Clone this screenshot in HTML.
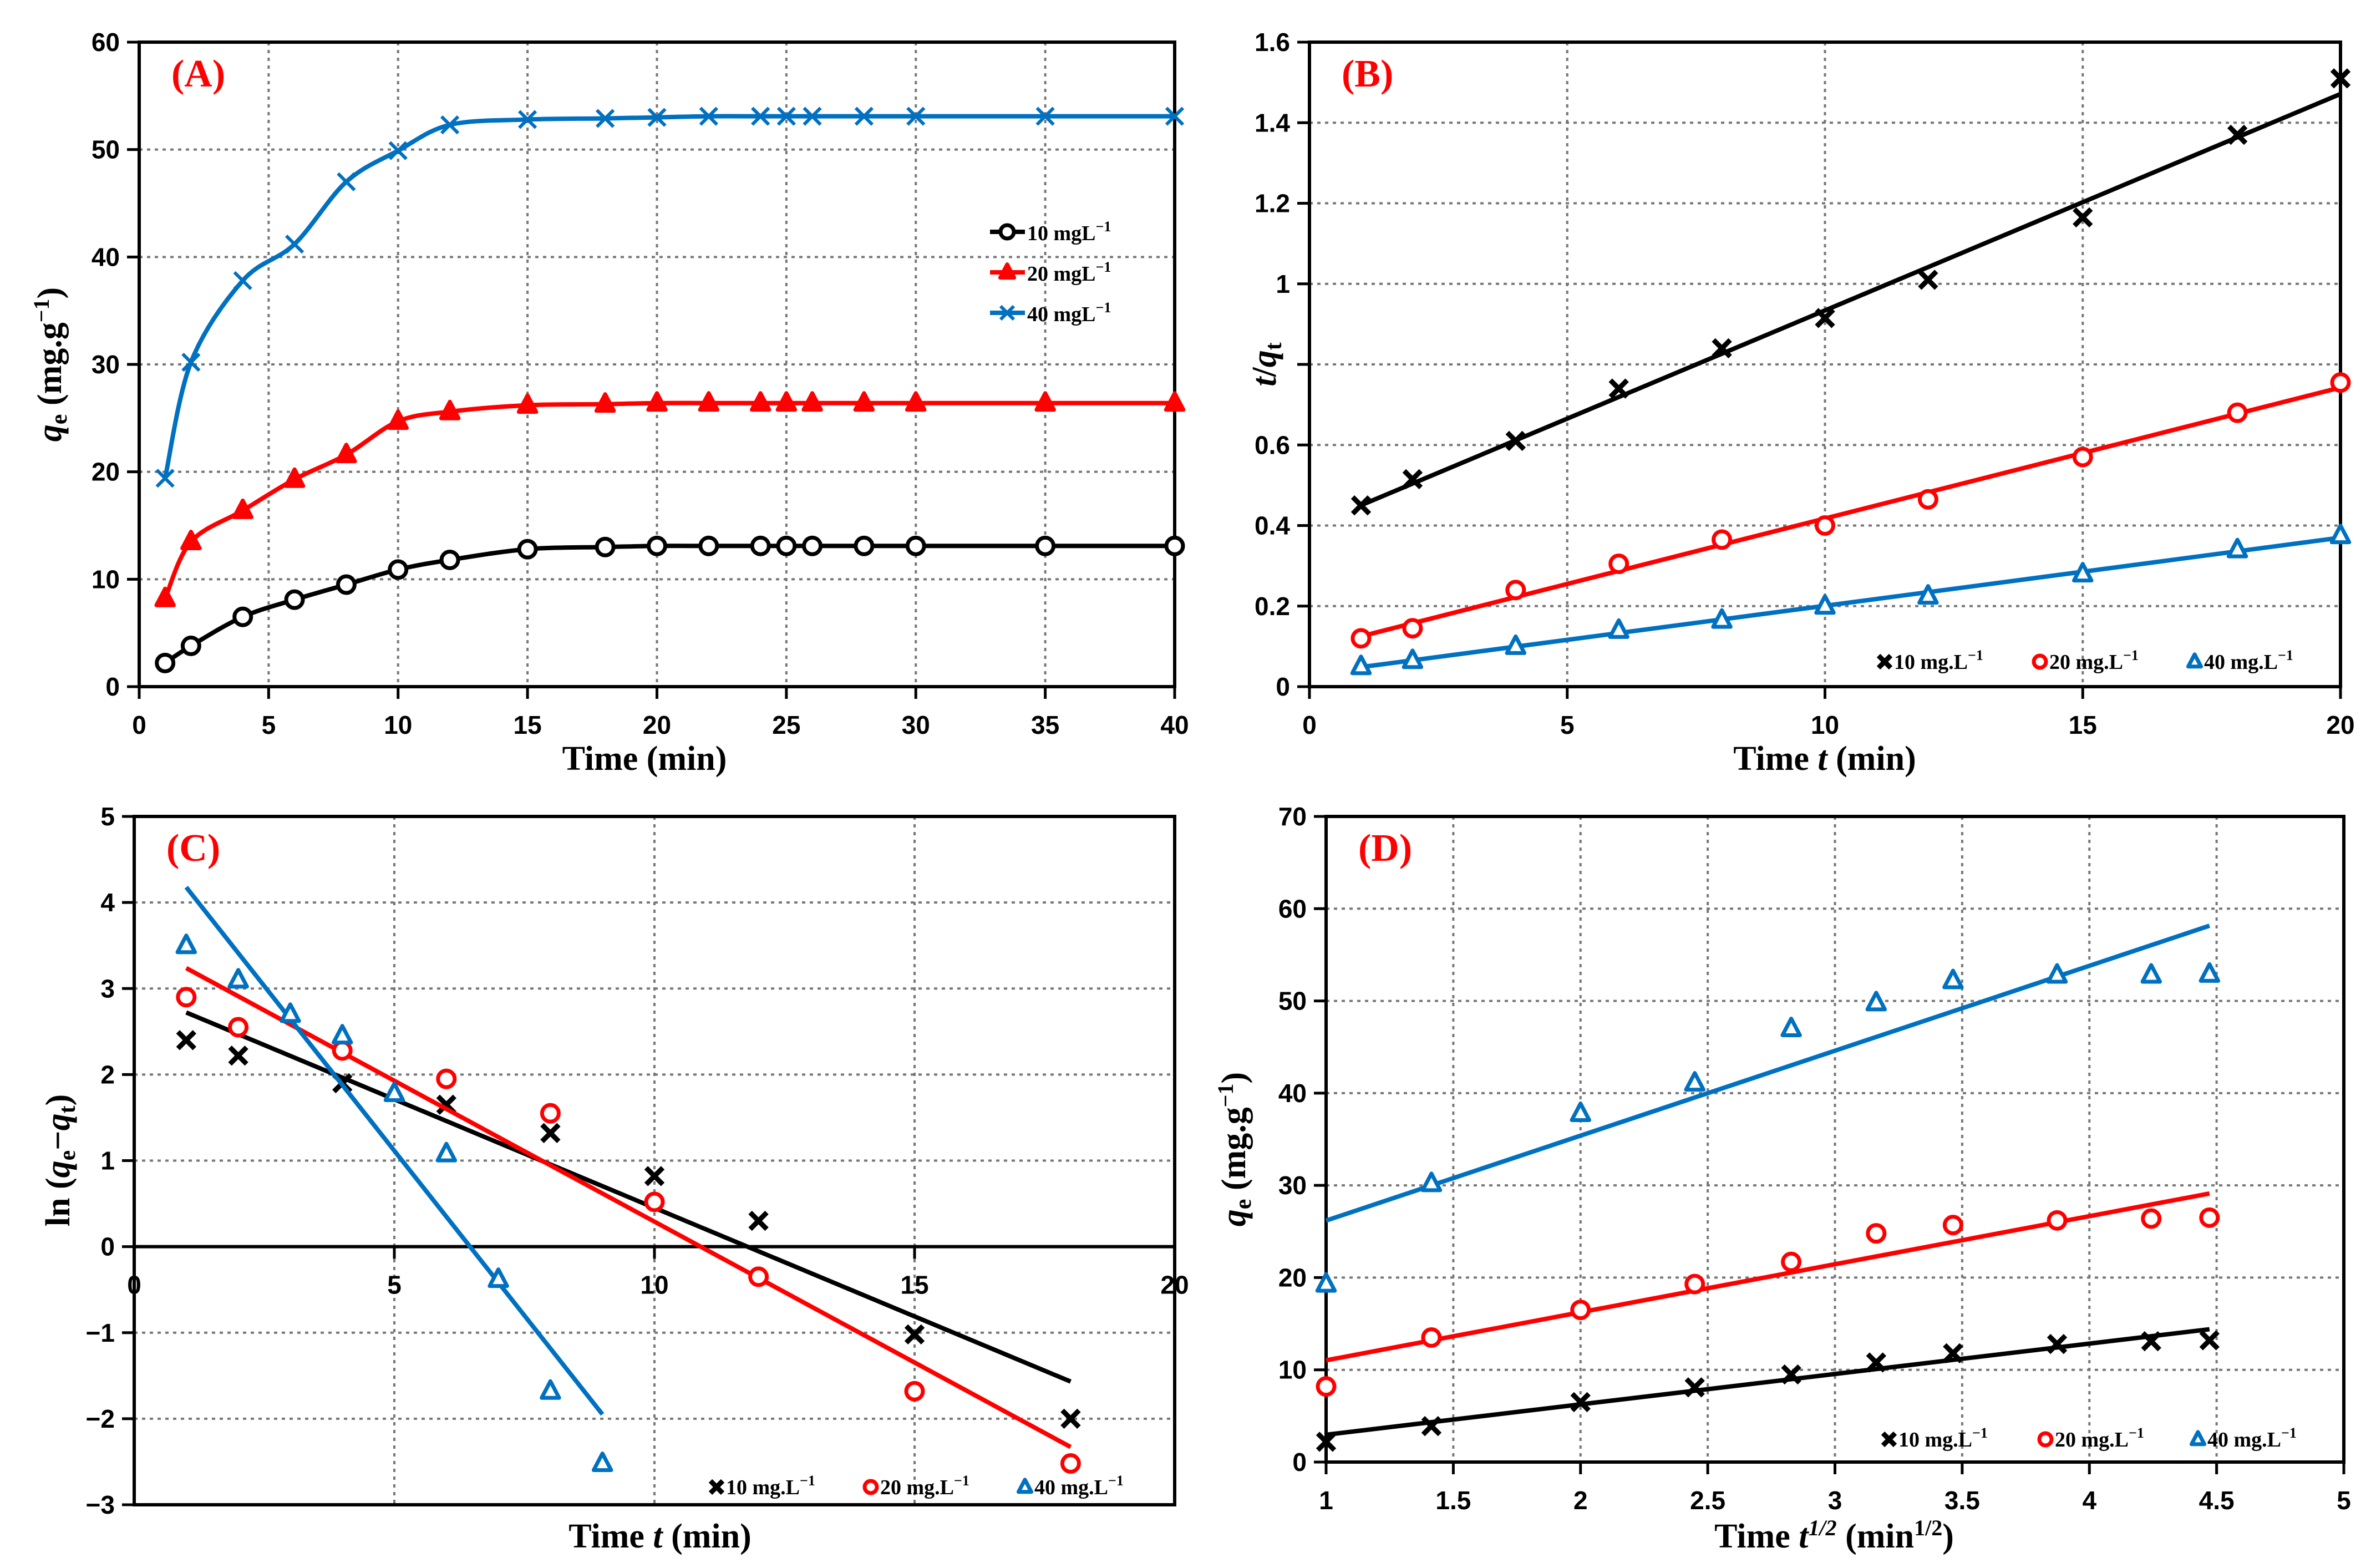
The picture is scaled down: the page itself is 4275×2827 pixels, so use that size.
<!DOCTYPE html>
<html><head><meta charset="utf-8">
<style>
html,body{margin:0;padding:0;background:#fff;}
svg{display:block;}
.tick{font-family:"Liberation Sans Narrow","Liberation Sans",sans-serif;font-weight:bold;font-size:46px;fill:#000;}
.ttl{font-family:"Liberation Serif",serif;font-weight:bold;font-size:62px;fill:#000;}
.leg{font-family:"Liberation Serif",serif;font-weight:bold;font-size:38px;fill:#000;}
.pl{font-family:"Liberation Serif",serif;font-weight:bold;font-size:70px;fill:#ff0000;}
</style></head>
<body>
<svg id="fig" xmlns="http://www.w3.org/2000/svg" width="4275" height="2827" viewBox="0 0 4275 2827">
<rect width="4275" height="2827" fill="#fff"/>
</svg>
<script>
// ---- Panel A data ----
const timesA = [1,2,4,6,8,10,12,15,18,20,22,24,25,26,28,30,35,40];
const qA10 = [2.2,3.8,6.5,8.1,9.5,10.9,11.8,12.8,13.0,13.1,13.1,13.1,13.1,13.1,13.1,13.1,13.1,13.1];
const qA20 = [8.2,13.5,16.4,19.3,21.6,24.7,25.6,26.2,26.3,26.4,26.4,26.4,26.4,26.4,26.4,26.4,26.4,26.4];
const qA40 = [19.4,30.2,37.8,41.2,47.0,49.9,52.3,52.8,52.9,53.0,53.1,53.1,53.1,53.1,53.1,53.1,53.1,53.1];
// ---- Panel B data ----
const timesB = [1,2,4,6,8,10,12,15,18,20];
const tqB10 = [0.45,0.515,0.61,0.74,0.84,0.915,1.01,1.165,1.37,1.51];
const tqB20 = [0.12,0.145,0.24,0.305,0.365,0.40,0.465,0.57,0.68,0.755];
const tqB40 = [0.05,0.065,0.10,0.14,0.165,0.20,0.225,0.28,0.34,0.375];
// ---- Panel C data ----
const timesC10 = [1,2,4,6,8,10,12,15,18];
const lnC10 = [2.4,2.22,1.9,1.65,1.32,0.82,0.3,-1.02,-2.0];
const timesC20 = [1,2,4,6,8,10,12,15,18];
const lnC20 = [2.9,2.55,2.28,1.95,1.55,0.52,-0.35,-1.68,-2.52];
const timesC40 = [1,2,3,4,5,6,7,8,9];
const lnC40 = [3.5,3.1,2.7,2.45,1.78,1.08,-0.38,-1.68,-2.52];
// ---- Panel D data ----
const sqrtTD = [1,1.414,2,2.449,2.828,3.162,3.464,3.873,4.243,4.472];
const qD10 = [2.2,3.9,6.5,8.1,9.5,10.8,11.8,12.8,13.1,13.2];
const qD20 = [8.2,13.5,16.5,19.3,21.7,24.8,25.7,26.2,26.4,26.5];
const qD40 = [19.3,30.2,37.8,41.1,47.0,49.8,52.2,52.8,52.8,52.9];
// ---- tick labels ----
const ticksAx = [0,5,10,15,20,25,30,35,40];
const ticksAy = [0,10,20,30,40,50,60];
const ticksBx = [0,5,10,15,20];
const ticksBy = ["0","0.2","0.4","0.6","0.8","1","1.2","1.4","1.6"];
const ticksCx = [0,5,10,15,20];
const ticksCy = [-3,-2,-1,0,1,2,3,4,5];
const ticksDx = ["1","1.5","2","2.5","3","3.5","4","4.5","5"];
const ticksDy = [0,10,20,30,40,50,60,70];

const NS="http://www.w3.org/2000/svg";
const fig=document.getElementById('fig');
const BLUE="#0070c0", RED="#ff0000", BLACK="#000";
function el(tag,parent){const e=document.createElementNS(NS,tag);parent.appendChild(e);return e;}
function attrs(e,o){for(const k in o)e.setAttribute(k,o[k]);return e;}

function axes(p){
  p.sx=v=>p.x0+(v-p.xmin)/(p.xmax-p.xmin)*(p.x1-p.x0);
  p.sy=v=>p.y0-(v-p.ymin)/(p.ymax-p.ymin)*(p.y0-p.y1);
  const g=el('g',fig);
  
  
  p.g=g;
  for(let v=p.xmin+p.xg; v<p.xmax-1e-9; v+=p.xg){
    const l=attrs(el('line',g),{x1:p.sx(v),x2:p.sx(v),y1:p.y1,y2:p.y0,stroke:'#777','stroke-width':4,'stroke-dasharray':'6,8'});
    
    
  }
  for(let v=p.ymin+p.yg; v<p.ymax-1e-9; v+=p.yg){
    const l=attrs(el('line',g),{x1:p.x0,x2:p.x1,y1:p.sy(v),y2:p.sy(v),stroke:'#777','stroke-width':4,'stroke-dasharray':'6,8'});
    
    
  }
  const fr=attrs(el('rect',g),{x:p.x0,y:p.y1,width:p.x1-p.x0,height:p.y0-p.y1,fill:'none',stroke:'#000','stroke-width':6});
  
  
  if(p.zeroLine){
    const z=attrs(el('line',g),{x1:p.x0,x2:p.x1,y1:p.sy(0),y2:p.sy(0),stroke:'#000','stroke-width':6});
    
    
  }
  const xAxY = p.zeroLine? p.sy(0):p.y0;
  p.xt.forEach(t=>{
    const v=parseFloat(t);
    const tk=attrs(el('line',g),{x1:p.sx(v),x2:p.sx(v),y1:xAxY,y2:xAxY+22,stroke:'#000','stroke-width':5});
    
    
    const tx=attrs(el('text',g),{x:p.sx(v),y:xAxY+85,'text-anchor':'middle',class:'tick'});
    tx.textContent=t;
    
    
  });
  p.yt.forEach(t=>{
    const v=parseFloat(t);
    const tk=attrs(el('line',g),{x1:p.x0-22,x2:p.x0,y1:p.sy(v),y2:p.sy(v),stroke:'#000','stroke-width':5});
    
    
    const tx=attrs(el('text',g),{x:p.x0-35,y:p.sy(v)+16,'text-anchor':'end',class:'tick'});
    tx.textContent=(v<0?'\u2212'+Math.abs(v):t);
    
    
  });
  const lb=attrs(el('text',g),{x:p.x0+58,y:p.y1+80,class:'pl'});
  lb.textContent=p.label;
  
  
}

function marker(g,type,cx,cy,color,filled,r){
  r=r||15;
  let m;
  if(type==='o'){
    m=attrs(el('circle',g),{cx:cx,cy:cy,r:r,fill:filled?color:'#fff',stroke:color,'stroke-width':7});
  }else if(type==='t'){
    m=attrs(el('polygon',g),{points:`${cx},${cy-r*1.2} ${cx-r*1.05},${cy+r*0.8} ${cx+r*1.05},${cy+r*0.8}`,fill:filled?color:'#fff',stroke:color,'stroke-width':7,'stroke-linejoin':'round'});
  }else{
    m=el('path',g);
    attrs(m,{d:`M${cx-r},${cy-r}L${cx+r},${cy+r}M${cx-r},${cy+r}L${cx+r},${cy-r}`,stroke:color,'stroke-width':filled?9:6,fill:'none'});
  }
  
  
  return m;
}

function smoothPath(pts){
  let d=`M${pts[0][0]},${pts[0][1]}`;
  for(let i=0;i<pts.length-1;i++){
    const p0=pts[Math.max(0,i-1)],p1=pts[i],p2=pts[i+1],p3=pts[Math.min(pts.length-1,i+2)];
    const c1=[p1[0]+(p2[0]-p0[0])/6,p1[1]+(p2[1]-p0[1])/6];
    const c2=[p2[0]-(p3[0]-p1[0])/6,p2[1]-(p3[1]-p1[1])/6];
    d+=`C${c1[0]},${c1[1]} ${c2[0]},${c2[1]} ${p2[0]},${p2[1]}`;
  }
  return d;
}
function fit(xs,ys){
  const n=xs.length;let mx=0,my=0;xs.forEach((x,i)=>{mx+=x;my+=ys[i];});mx/=n;my/=n;
  let sxy=0,sxx=0;xs.forEach((x,i)=>{sxy+=(x-mx)*(ys[i]-my);sxx+=(x-mx)*(x-mx);});
  const b=sxy/sxx;return [my-b*mx,b];
}
function series(p,xs,ys,color,type,filled,mode,name){
  const g=el('g',p.g);
  
  
  const pts=xs.map((x,i)=>[p.sx(x),p.sy(ys[i])]);
  if(mode==='smooth'){
    const ln=attrs(el('path',g),{d:smoothPath(pts),fill:'none',stroke:color,'stroke-width':8});
    
    
  }else{
    const [a,b]=fit(xs,ys);
    const xa=xs[0],xb=xs[xs.length-1];
    const ln=attrs(el('line',g),{x1:p.sx(xa),y1:p.sy(a+b*xa),x2:p.sx(xb),y2:p.sy(a+b*xb),stroke:color,'stroke-width':8});
    
    
  }
  pts.forEach(q=>marker(g,type,q[0],q[1],color,filled));
}
function text(x,y,cls,html,name,extra){
  const t=attrs(el('text',fig),Object.assign({x:x,y:y,class:cls},extra||{}));
  t.innerHTML=html;
  
  
  return t;
}
function legendRow(x,y,items){
  items.forEach(it=>{
    const g=el('g',fig);
    
    
    marker(g,it.type,it.x,y-13,it.color,it.type==='x',11);
    const t=attrs(el('text',g),{x:it.x+17,y:y,class:'leg'});
    t.innerHTML=it.label+' mg.L<tspan dy="-16" font-size="26">\u22121</tspan>';
  });
}

// Panel A
const pA={name:'panel-a',label:'(A)',x0:251,x1:2118,y0:1238,y1:76,xmin:0,xmax:40,ymin:0,ymax:60,xg:5,yg:10,xt:ticksAx.map(String),yt:ticksAy.map(String)};
axes(pA);
series(pA,timesA,qA10,BLACK,'o',false,'smooth','series-10mg');
series(pA,timesA,qA20,RED,'t',true,'smooth','series-20mg');
series(pA,timesA,qA40,BLUE,'x',false,'smooth','series-40mg');
[[BLACK,'o',false,'10'],[RED,'t',true,'20'],[BLUE,'x',false,'40']].forEach((s,i)=>{
  const y=418+i*73;
  const g=el('g',fig);
  
  
  attrs(el('line',g),{x1:1785,x2:1848,y1:y,y2:y,stroke:s[0],'stroke-width':8});
  marker(g,s[1],1816,y,s[0],s[2],12);
  const t=attrs(el('text',g),{x:1852,y:y+15,class:'leg'});
  t.innerHTML=s[3]+' mgL<tspan dy="-16" font-size="26">\u22121</tspan>';
});
text(1162,1388,'ttl','Time (min)','x-axis-title',{'text-anchor':'middle'});
text(0,0,'ttl','<tspan font-style="italic">q</tspan><tspan font-size="42" dy="10">e</tspan><tspan dy="-10"> (mg.g</tspan><tspan font-size="40" dy="-22">\u22121</tspan><tspan dy="22">)</tspan>','y-axis-title',{'text-anchor':'middle',transform:'translate(110,657) rotate(-90)'});

// Panel B
const pB={name:'panel-b',label:'(B)',x0:2361,x1:4220,y0:1238,y1:76,xmin:0,xmax:20,ymin:0,ymax:1.6,xg:5,yg:0.2,xt:ticksBx.map(String),yt:ticksBy};
axes(pB);
series(pB,timesB,tqB10,BLACK,'x',true,'line','series-10mg');
series(pB,timesB,tqB20,RED,'o',false,'line','series-20mg');
series(pB,timesB,tqB40,BLUE,'t',false,'line','series-40mg');
legendRow(0,1206,[{x:3398,type:'x',color:BLACK,label:'10'},{x:3678,type:'o',color:RED,label:'20'},{x:3957,type:'t',color:BLUE,label:'40'}]);
text(3290,1388,'ttl','Time <tspan font-style="italic">t</tspan> (min)','x-axis-title',{'text-anchor':'middle'});
const bbg=attrs(el('rect',fig),{x:2238,y:600,width:90,height:120,fill:'#fff'});


text(0,0,'ttl','<tspan font-style="italic">t</tspan>/<tspan font-style="italic">q</tspan><tspan font-size="42" dy="10">t</tspan>','y-axis-title',{'text-anchor':'middle',transform:'translate(2300,657) rotate(-90)'});

// Panel C
const pC={name:'panel-c',label:'(C)',x0:242,x1:2118,y0:2713,y1:1472,xmin:0,xmax:20,ymin:-3,ymax:5,xg:5,yg:1,xt:ticksCx.map(String),yt:ticksCy.map(String),zeroLine:true};
axes(pC);
series(pC,timesC10,lnC10,BLACK,'x',true,'line','series-10mg');
series(pC,timesC20,lnC20,RED,'o',false,'line','series-20mg');
series(pC,timesC40,lnC40,BLUE,'t',false,'line','series-40mg');
legendRow(0,2694,[{x:1292,type:'x',color:BLACK,label:'10'},{x:1570,type:'o',color:RED,label:'20'},{x:1848,type:'t',color:BLUE,label:'40'}]);
text(1190,2790,'ttl','Time <tspan font-style="italic">t</tspan> (min)','x-axis-title',{'text-anchor':'middle'});
text(0,0,'ttl','ln (<tspan font-style="italic">q</tspan><tspan font-size="42" dy="10">e</tspan><tspan dy="-10">\u2212</tspan><tspan font-style="italic">q</tspan><tspan font-size="42" dy="10">t</tspan><tspan dy="-10">)</tspan>','y-axis-title',{'text-anchor':'middle',transform:'translate(125,2092) rotate(-90)'});

// Panel D
const pD={name:'panel-d',label:'(D)',x0:2391,x1:4226,y0:2636,y1:1472,xmin:1,xmax:5,ymin:0,ymax:70,xg:0.5,yg:10,xt:ticksDx,yt:ticksDy.map(String)};
axes(pD);
series(pD,sqrtTD,qD10,BLACK,'x',true,'line','series-10mg');
series(pD,sqrtTD,qD20,RED,'o',false,'line','series-20mg');
series(pD,sqrtTD,qD40,BLUE,'t',false,'line','series-40mg');
legendRow(0,2608,[{x:3406,type:'x',color:BLACK,label:'10'},{x:3688,type:'o',color:RED,label:'20'},{x:3963,type:'t',color:BLUE,label:'40'}]);
text(3307,2790,'ttl','Time <tspan font-style="italic">t</tspan><tspan font-style="italic" font-size="40" dy="-22">1/2</tspan><tspan dy="22"> (min</tspan><tspan font-size="40" dy="-22">1/2</tspan><tspan dy="22">)</tspan>','x-axis-title',{'text-anchor':'middle'});
text(0,0,'ttl','<tspan font-style="italic">q</tspan><tspan font-size="42" dy="10">e</tspan><tspan dy="-10"> (mg.g</tspan><tspan font-size="40" dy="-22">\u22121</tspan><tspan dy="22">)</tspan>','y-axis-title',{'text-anchor':'middle',transform:'translate(2245,2072) rotate(-90)'});
</script>
</body></html>
